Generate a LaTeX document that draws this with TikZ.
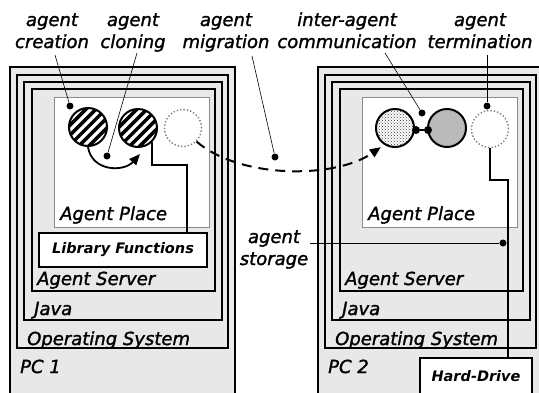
\documentclass[tikz,border=0pt]{standalone}
\usepackage{fontspec}
\setmainfont{DejaVu Sans}[ItalicFeatures={FakeBold=1.5}]
\usetikzlibrary{arrows.meta,patterns,calc}

\begin{document}
\begin{tikzpicture}[x=1pt,y=-1pt,
  layer/.style={draw=black, line width=1.5pt, fill=black!9},
  placebox/.style={draw=black!45, line width=1pt, fill=white},
  framebox/.style={draw=black, line width=2pt, fill=white, inner sep=0pt,
    font=\fontsize{14.5}{17}\selectfont\bfseries\itshape},
  lbl/.style={font=\fontsize{18}{22}\selectfont\itshape, inner sep=0pt, anchor=base west},
  callout/.style={font=\fontsize{18}{22}\selectfont\itshape, inner sep=0pt, align=center, anchor=base},
  lead/.style={line width=0.6pt},
  pin/.style={circle, fill=black, inner sep=0pt, minimum size=7pt},
  wire/.style={line width=2pt},
  agentc/.style={circle, draw=black, line width=2pt, minimum size=38pt, inner sep=0pt},
  ghost/.style={circle, draw=black!50, dotted, line width=1.4pt, minimum size=37pt, inner sep=0pt},
  tip/.style={-{Triangle[length=11pt,width=9pt]}}
]
\useasboundingbox (0,0) rectangle (539,392);
\clip (0,0) rectangle (539,392);

% --- two hosts, each a stack of software layers ---
\foreach \dx/\n in {0/1, 308/2} {
  \begin{scope}[xshift=\dx pt]
    \draw[layer, line width=2pt] (10,67) rectangle (235,400);
    \draw[layer] (17,75) rectangle (228,348);
    \draw[layer] (24,82) rectangle (222,320);
    \draw[layer] (32,89) rectangle (215,291);
    \draw[placebox] (54,97) rectangle (209,227);
    \node[lbl] at (60,220) {Agent Place};
    \node[lbl] at (37,285) {Agent Server};
    \node[lbl] at (34,315) {Java};
    \node[lbl] at (27,345) {Operating System};
    \node[lbl] at (20,373) {PC \n};
  \end{scope}
}

% --- striped agents on host 1 ---
\newcommand{\stripedisc}[1]{%
  \begin{scope}
    \clip (#1) circle[radius=19];
    \foreach \k in {-3,...,3}
      \draw[line width=3.5pt] ($(#1)+(\k*4.95+21.2,\k*4.95-21.2)$) -- ($(#1)+(\k*4.95-21.2,\k*4.95+21.2)$);
  \end{scope}}
\coordinate (p1) at (88,127);
\coordinate (p2) at (138,128);
\stripedisc{p1}
\stripedisc{p2}
\node[agentc] (c1) at (p1) {};
\node[agentc] (c2) at (p2) {};
\node[ghost] (g1) at (183,128) {};

% --- agents on host 2 ---
\node[agentc, pattern=crosshatch dots, pattern color=black!80] (a1) at (395,128) {};
\node[agentc, fill=black!27] (a2) at (447,128) {};
\node[ghost] (g2) at (490,129) {};
\node[pin, minimum size=8pt] (k1) at (416,130) {};
\node[pin, minimum size=8pt] (k2) at (428,130) {};
\draw[wire] (k1) -- (k2);

% --- library functions and hard drive ---
\node[framebox, minimum width=168pt, minimum height=34pt] (lib) at (123,250) {Library Functions};
\node[framebox, minimum width=112pt, minimum height=37pt] (hd) at (476,376.5) {Hard-Drive};
\coordinate (j1) at (187,165);
\draw[wire] (c2.-45) |- (j1) -- (j1 |- lib.north);
\coordinate (j2) at (508,180);
\draw[wire] (g2.south) |- (j2) -- (j2 |- hd.north);

% --- cloning and migration arrows ---
\coordinate (cl) at ($(c2.south)+(2,6)$);
\draw[line width=1.8pt, tip] (c1.south) .. controls (92,172) and (124,172) .. (cl);
\coordinate (mg) at ($(a1.south west)+(0,5)$);
\draw[line width=2pt, dash pattern=on 10pt off 7pt, tip] (g1.-45) .. controls (240,179) and (335,179) .. (mg);

% --- callouts (anchored on the baseline of their second line) ---
\node[callout] (lc) at (52,48) {agent\\creation};
\node[callout] (ln) at (133,48) {agent\\cloning};
\node[callout] (lm) at (226,48) {agent\\migration};
\node[callout] (li) at (347,48) {inter-agent\\communication};
\node[callout] (lt) at (480,48) {agent\\termination};
\node[callout] (ls) at (274,265) {agent\\storage};

\node[pin] (dc) at (70,106) {};
\node[pin] (dn) at (107,156) {};
\node[pin] (dm) at (275,157) {};
\node[pin] (di) at (422,113) {};
\node[pin] (dt) at (487,106) {};
\node[pin] (ds) at (503,243) {};

\draw[lead] ($(lc.base)+(3,7)$) -- (dc);
\draw[lead] ($(ln.base)+(4,5)$) -- (dn);
\draw[lead] ($(lm.base)+(26,8)$) -- (dm);
\draw[lead] ($(li.base)+(38,5)$) -- (di);
\draw[lead] ($(lt.base)+(7,7)$) -- (dt);
\draw[lead] ($(ls.base)+(36,-22)$) -- (ds);
\end{tikzpicture}
\end{document}
